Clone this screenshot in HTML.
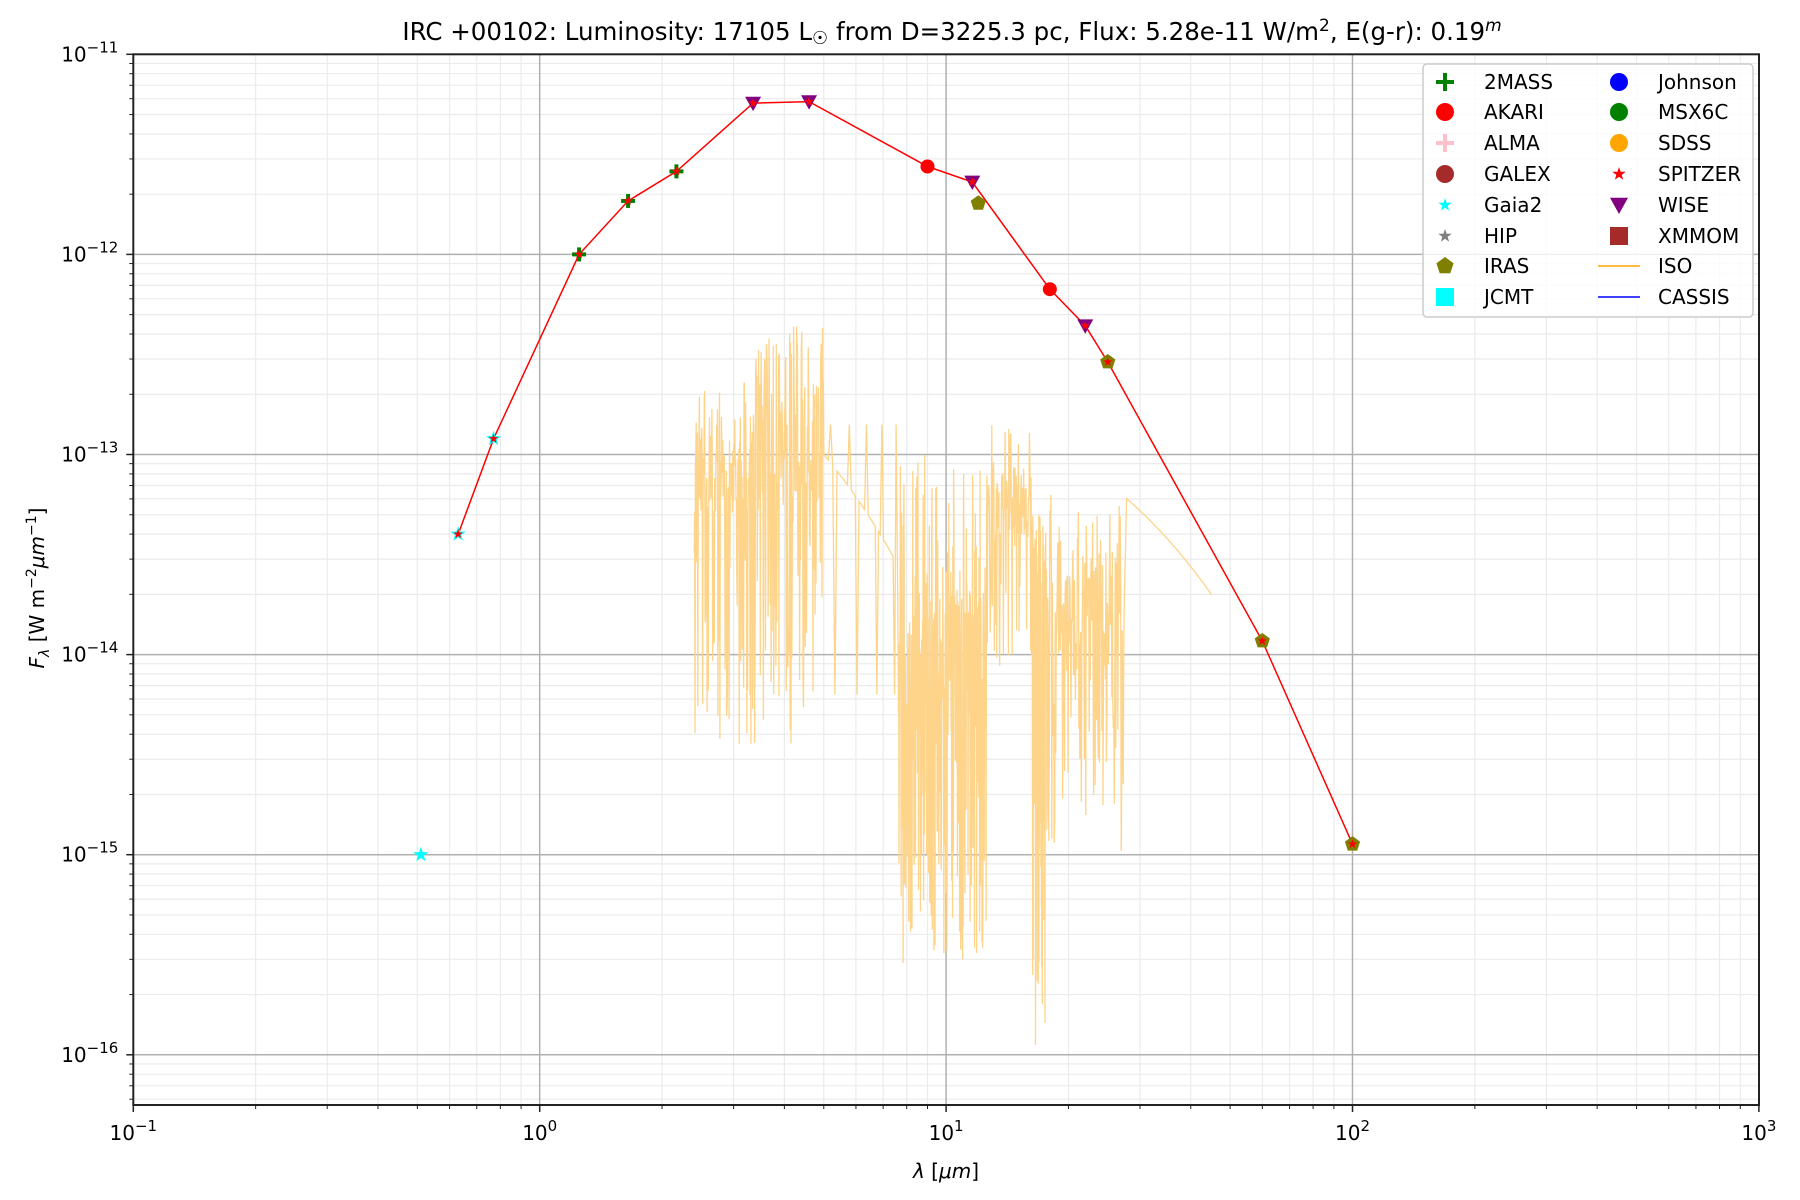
<!DOCTYPE html>
<html><head><meta charset="utf-8"><style>
html,body{margin:0;padding:0;background:#fff;}
svg{display:block;font-family:"DejaVu Sans","Liberation Sans",sans-serif;}
</style></head><body>
<svg id="s" width="1800" height="1200" viewBox="0 0 1800 1200" xmlns="http://www.w3.org/2000/svg">
<rect width="1800" height="1200" fill="#fff"/>
<g id="grid"></g>
<g id="spec"></g>
<g id="data"></g>
<g id="axes"></g>
<text x="952" y="40" font-size="24.5" text-anchor="middle">IRC +00102:  Luminosity: 17105 L<tspan font-size="18" dy="4">☉</tspan><tspan dy="-4"> from D=3225.3 pc, Flux: 5.28e-11 W/m</tspan><tspan dy="-9" font-size="17">2</tspan><tspan dy="9">, E(g-r): 0.19</tspan><tspan dy="-9" font-size="17" font-style="italic">m</tspan></text>
<text x="946" y="1178" font-size="20" text-anchor="middle"><tspan font-style="italic">λ</tspan> [<tspan font-style="italic">μm</tspan>]</text>
<text transform="translate(44,588) rotate(-90)" font-size="20" text-anchor="middle"><tspan font-style="italic">F</tspan><tspan font-style="italic" font-size="14" dy="5">λ</tspan><tspan dy="-5"> [W m</tspan><tspan font-size="14" dy="-8">−2</tspan><tspan dy="8" font-style="italic">μm</tspan><tspan font-size="14" dy="-8">−1</tspan><tspan dy="8">]</tspan></text>
<g id="legend">
<rect x="1423" y="64" width="330" height="253" rx="4" fill="#fff" fill-opacity="0.8" stroke="#ccc" stroke-width="1.5"/>
</g>
</svg>
<script>
var NS="http://www.w3.org/2000/svg";
function X(l){return 133.3+406.4*(Math.log10(l)+1);}
function Y(f){return 54.3+200.1*(-11-f);}
function el(p,t,a){var e=document.createElementNS(NS,t);for(var k in a)e.setAttribute(k,a[k]);document.getElementById(p).appendChild(e);return e;}
var L=133.3,R=1759,T=54.3,B=1105;
for(var d=-1;d<3;d++)for(var m=2;m<10;m++){var x=X(m*Math.pow(10,d));el("grid","line",{x1:x,x2:x,y1:T,y2:B,stroke:"#ebebeb","stroke-width":1.2});}
for(var d=-17;d<-11;d++)for(var m=2;m<10;m++){var v=Math.log10(m)+d;var y=Y(v);if(y>T&&y<B)el("grid","line",{x1:L,x2:R,y1:y,y2:y,stroke:"#ebebeb","stroke-width":1.2});}
for(var d=-1;d<=3;d++){var x=X(Math.pow(10,d));el("grid","line",{x1:x,x2:x,y1:T,y2:B,stroke:"#b0b0b0","stroke-width":1.5});}
for(var d=-16;d<=-11;d++){var y=Y(d);el("grid","line",{x1:L,x2:R,y1:y,y2:y,stroke:"#b0b0b0","stroke-width":1.5});}
var seed=12345;function rnd(){seed=(seed*16807)%2147483647;return seed/2147483647;}
var pts=[];
function seg(l0,l1,n,lo,hi,dip,pd,spk,ps){for(var i=0;i<n;i++){var l=Math.pow(10,Math.log10(l0)+(Math.log10(l1)-Math.log10(l0))*i/n);var r=rnd(),v;
 if(r<pd)v=dip+(lo-dip)*rnd();else if(r<pd+ps)v=hi+(spk-hi)*rnd();else v=lo+(hi-lo)*rnd();pts.push([l,v]);}}
seg(2.4,3.3,140,-13.3,-12.9,-14.45,0.3,-12.6,0.1);
seg(3.3,5.0,170,-13.3,-12.6,-14.5,0.3,-12.35,0.12);
for(var i=0;i<40;i++){var l=5+2.6*i/40;var v=-13.0-0.55*i/40;if(i%9==3)v=-12.85;if(i%11==5)v=-14.2;pts.push([l,v]);}
seg(7.6,12.6,330,-14.4,-13.7,-15.55,0.35,-13.0,0.12);
seg(12.6,16.3,110,-13.4,-13.05,-14.1,0.2,-12.85,0.1);
seg(16.3,17.6,60,-13.75,-13.4,-15.95,0.6,-13.3,0.1);
seg(17.6,27.5,160,-14.1,-13.5,-15.0,0.3,-13.2,0.1);
for(var i=0;i<=30;i++){var l=27.8+17.2*i/30;var v=-13.22-0.48*i/30;pts.push([l,v]);}
el("spec","polyline",{points:pts.map(function(p){return X(p[0]).toFixed(1)+","+Y(p[1]).toFixed(1);}).join(" "),fill:"none",stroke:"#fdd48a","stroke-width":1.3});
var D=[[0.63,4e-14,"gaia"],[0.77,1.2e-13,"gaia"],[1.25,1e-12,"mass"],[1.65,1.85e-12,"mass"],[2.17,2.6e-12,"mass"],[3.35,5.7e-12,"wise"],[4.6,5.8e-12,"wise"],[9.0,2.75e-12,"akari"],[11.6,2.3e-12,"wise"],[18,6.7e-13,"akari"],[22,4.4e-13,"wise"],[25,2.9e-13,"iras"],[60,1.17e-14,"iras"],[100,1.13e-15,"iras"]];
el("data","polyline",{points:D.map(function(p){return X(p[0]).toFixed(1)+","+Y(Math.log10(p[1])).toFixed(1);}).join(" "),fill:"none",stroke:"#ff0000","stroke-width":1.5});
function star(g,x,y,r,c){var s="";for(var i=0;i<10;i++){var a=-Math.PI/2+i*Math.PI/5;var rr=i%2?r*0.4:r;s+=(x+rr*Math.cos(a)).toFixed(1)+","+(y+rr*Math.sin(a)).toFixed(1)+" ";}el(g,"polygon",{points:s,fill:c});}
function pent(g,x,y,r,c){var s="";for(var i=0;i<5;i++){var a=-Math.PI/2+i*2*Math.PI/5;s+=(x+r*Math.cos(a)).toFixed(1)+","+(y+r*Math.sin(a)).toFixed(1)+" ";}el(g,"polygon",{points:s,fill:c});}
function tri(g,x,y,r,c){el(g,"polygon",{points:(x-r)+","+(y-r*0.8)+" "+(x+r)+","+(y-r*0.8)+" "+x+","+(y+r),fill:c});}
function plus(g,x,y,r,c,w){el(g,"line",{x1:x-r,x2:x+r,y1:y,y2:y,stroke:c,"stroke-width":w});el(g,"line",{x1:x,x2:x,y1:y-r,y2:y+r,stroke:c,"stroke-width":w});}
function circ(g,x,y,r,c){el(g,"circle",{cx:x,cy:y,r:r,fill:c});}
function sq(g,x,y,r,c){el(g,"rect",{x:x-r,y:y-r,width:2*r,height:2*r,fill:c});}
D.forEach(function(p){var x=X(p[0]),y=Y(Math.log10(p[1]));
 if(p[2]=="gaia")star("data",x,y,8,"#00ffff");
 if(p[2]=="mass")plus("data",x,y,7,"#008000",4);
 if(p[2]=="wise")tri("data",x,y,8,"#800080");
 if(p[2]=="akari")circ("data",x,y,7,"#ff0000");
 if(p[2]=="iras")pent("data",x,y,8,"#808000");
 if(p[2]!="akari")star("data",x,y,5,"#ff0000");});
star("data",X(0.51),Y(-15),8,"#00ffff");
pent("data",X(12),Y(Math.log10(1.8e-12)),8,"#808000");
el("axes","rect",{x:L,y:T,width:R-L,height:B-T,fill:"none",stroke:"#222","stroke-width":2});
var sup={"-1":"−1","0":"0","1":"1","2":"2","3":"3"};
for(var d=-1;d<=3;d++){var x=X(Math.pow(10,d));el("axes","line",{x1:x,x2:x,y1:B,y2:B+7,stroke:"#222","stroke-width":1.5});
 var t=el("axes","text",{x:x,y:B+35,"font-size":20,"text-anchor":"middle"});t.innerHTML='10<tspan dy="-9" font-size="15">'+sup[d]+'</tspan>';}
for(var d=-1;d<3;d++)for(var m=2;m<10;m++){var x=X(m*Math.pow(10,d));el("axes","line",{x1:x,x2:x,y1:B,y2:B+4,stroke:"#222","stroke-width":1});}
for(var d=-16;d<=-11;d++){var y=Y(d);el("axes","line",{x1:L-7,x2:L,y1:y,y2:y,stroke:"#222","stroke-width":1.5});
 var t=el("axes","text",{x:L-15,y:y+7,"font-size":20,"text-anchor":"end"});t.innerHTML='10<tspan dy="-9" font-size="15">−'+(-d)+'</tspan>';}
for(var d=-17;d<-11;d++)for(var m=2;m<10;m++){var y=Y(Math.log10(m)+d);if(y>T&&y<B)el("axes","line",{x1:L-4,x2:L,y1:y,y2:y,stroke:"#222","stroke-width":1});}
var rows=[82,112,143,174,205,236,266,297];
var c1=["2MASS","AKARI","ALMA","GALEX","Gaia2","HIP","IRAS","JCMT"];
var c2=["Johnson","MSX6C","SDSS","SPITZER","WISE","XMMOM","ISO","CASSIS"];
var x1=1445,x2=1619;
plus("legend",x1,rows[0],9,"#008000",4);circ("legend",x1,rows[1],9,"#ff0000");plus("legend",x1,rows[2],9,"#ffc0cb",4);
circ("legend",x1,rows[3],9,"#a52a2a");star("legend",x1,rows[4],7,"#00ffff");star("legend",x1,rows[5],7,"#808080");
pent("legend",x1,rows[6],9,"#808000");sq("legend",x1,rows[7],9,"#00ffff");
circ("legend",x2,rows[0],9,"#0000ff");circ("legend",x2,rows[1],9,"#008000");circ("legend",x2,rows[2],9,"#ffa500");
star("legend",x2,rows[3],7,"#ff0000");tri("legend",x2,rows[4],9,"#800080");sq("legend",x2,rows[5],9,"#a52a2a");
el("legend","line",{x1:x2-21,x2:x2+21,y1:rows[6],y2:rows[6],stroke:"#ffa500","stroke-width":1.5});
el("legend","line",{x1:x2-21,x2:x2+21,y1:rows[7],y2:rows[7],stroke:"#0000ff","stroke-width":1.5});
for(var i=0;i<8;i++){var t=el("legend","text",{x:1484,y:rows[i]+7,"font-size":20});t.textContent=c1[i];
 t=el("legend","text",{x:1658,y:rows[i]+7,"font-size":20});t.textContent=c2[i];}
</script>
</body></html>
